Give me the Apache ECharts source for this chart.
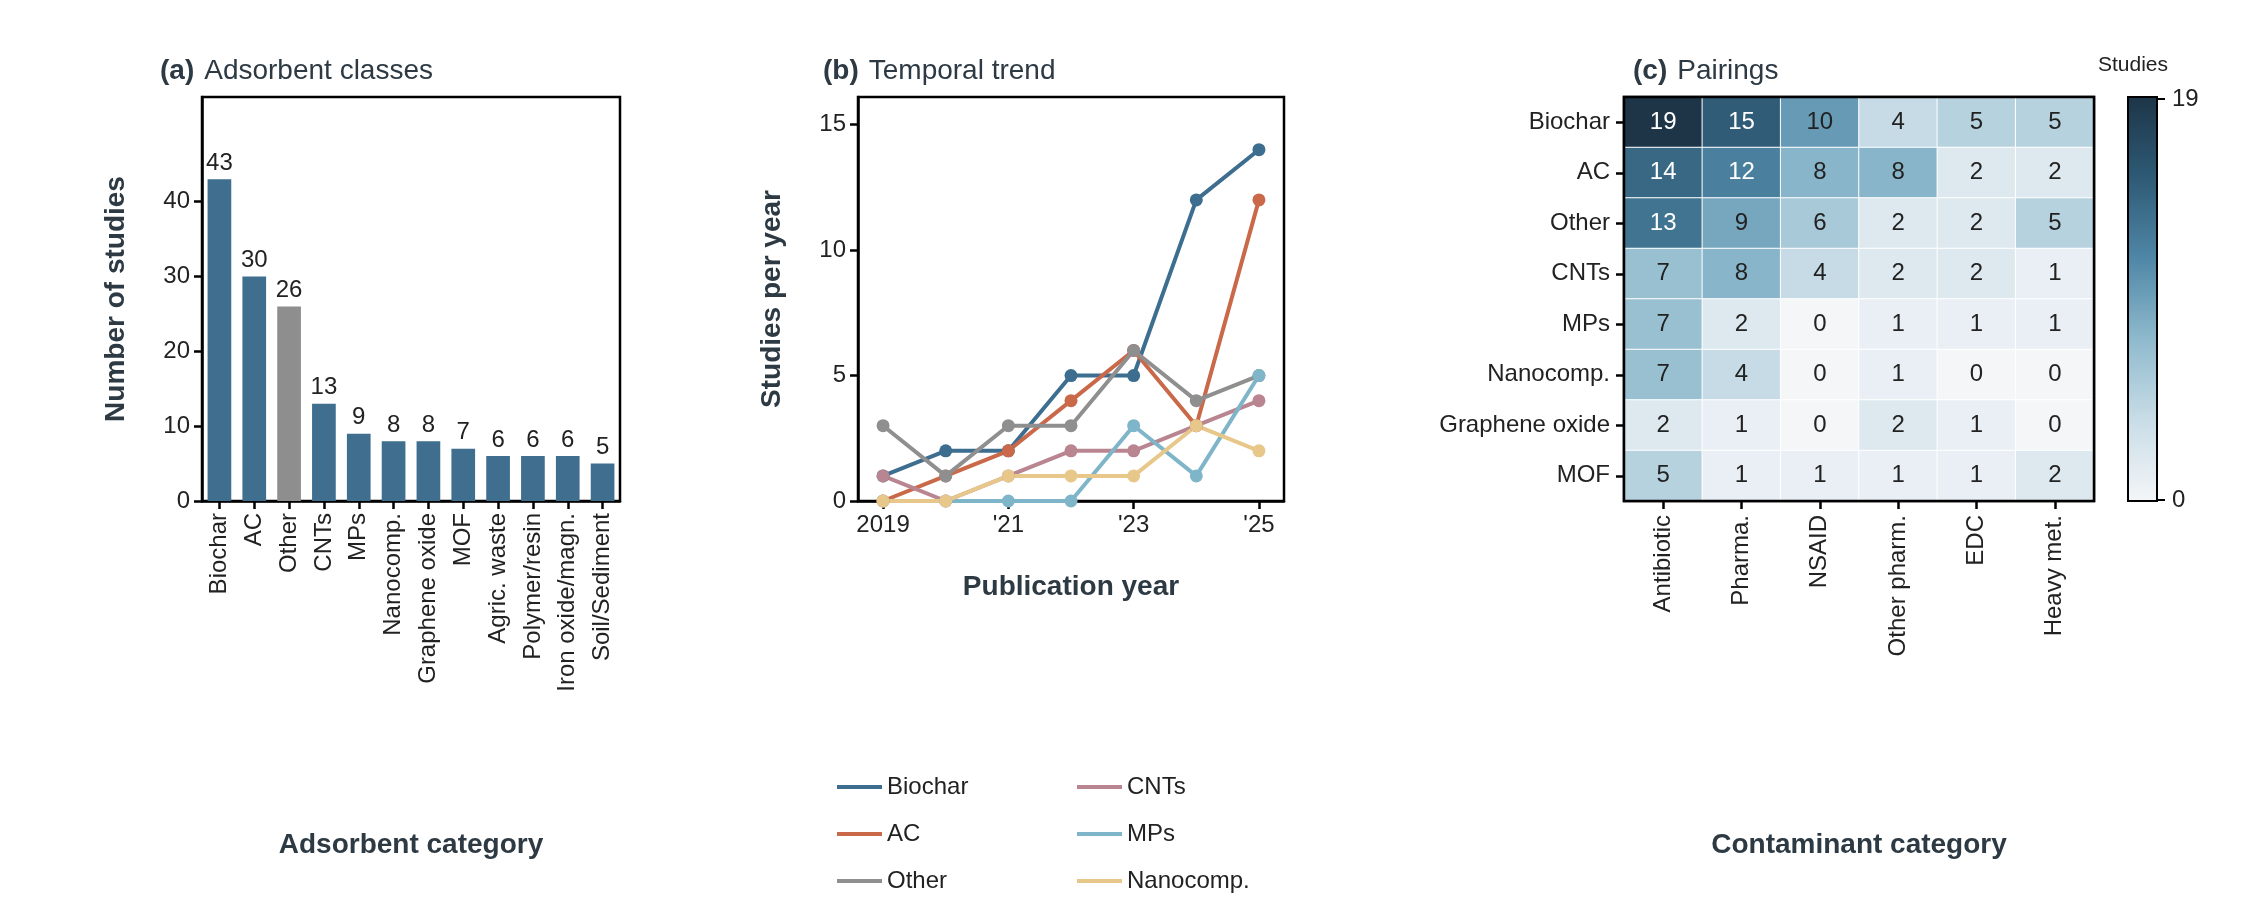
<!DOCTYPE html>
<html><head><meta charset="utf-8">
<script src="https://cdn.jsdelivr.net/npm/echarts@6/dist/echarts.min.js"></script>
<style>html,body{margin:0;background:#fff}#c{width:2244px;height:898px}</style>
</head><body><div id="c"></div>
<script>
const barCats = ['Biochar','AC','Other','CNTs','MPs','Nanocomp.','Graphene oxide','MOF','Agric. waste','Polymer/resin','Iron oxide/magn.','Soil/Sediment'];
const barVals = [43,30,26,13,9,8,8,7,6,6,6,5];
const barTicks = [0,10,20,30,40];
const years = [2019,2020,2021,2022,2023,2024,2025];
const yearTicks = [2019,2021,2023,2025];
const yearTickLabels = ['2019',"'21","'23","'25"];
const trendBiochar = [1,2,2,5,5,12,14];
const trendAC = [0,1,2,4,6,3,12];
const trendOther = [3,1,3,3,6,4,5];
const trendCNTs = [1,0,1,2,2,3,4];
const trendMPs = [0,0,0,0,3,1,5];
const trendNano = [0,0,1,1,1,3,2];
const hmRows = ['Biochar','AC','Other','CNTs','MPs','Nanocomp.','Graphene oxide','MOF'];
const hmCols = ['Antibiotic','Pharma.','NSAID','Other pharm.','EDC','Heavy met.'];
const hmVals = [
 [19,15,10,4,5,5],
 [14,12,8,8,2,2],
 [13,9,6,2,2,5],
 [7,8,4,2,2,1],
 [7,2,0,1,1,1],
 [7,4,0,1,0,0],
 [2,1,0,2,1,0],
 [5,1,1,1,1,2]
];

const F = 'Liberation Sans, Arial, sans-serif';
const TXT = '#222';
const DARK = '#2d3a44';
const axisLine = {show:true, lineStyle:{color:'#000', width:2.5}};
const tick = {show:true, length:8, lineStyle:{color:'#000', width:2.5}};
const lab = {color:TXT, fontSize:24, fontFamily:F};

const hmData = [];
hmVals.forEach((r,i)=>r.forEach((v,j)=>hmData.push({value:[j,i,v], label:{color: v>=11 ? '#fff' : '#222'}})));

function mkLine(name, data, color){
  return {type:'line', name, xAxisIndex:1, yAxisIndex:1, data: years.map((y,i)=>[y,data[i]]),
    symbol:'circle', symbolSize:13, lineStyle:{width:4, color}, itemStyle:{color}, z:3};
}
const trendColors = ['#3d6e8f','#c9694a','#8f8f8f','#b98591','#7fb5c8','#e8c88a'];
const legendPos = [['Biochar',832,782],['AC',832,829],['Other',832,876],['CNTs',1072,782],['MPs',1072,829],['Nanocomp.',1072,876]];
const rich = {b:{fontWeight:'bold',fontSize:28,color:DARK,fontFamily:F},n:{fontWeight:'normal',fontSize:28,color:DARK,fontFamily:F}};

const chart = echarts.init(document.getElementById('c'));
chart.setOption({
  animation:false,
  textStyle:{fontFamily:F},
  title:[
    {left:155, top:52, text:'{b|(a)}  {n|Adsorbent classes}', textStyle:{fontWeight:'normal', rich}},
    {left:818, top:52, text:'{b|(b)}  {n|Temporal trend}', textStyle:{fontWeight:'normal', rich}},
    {left:1628, top:52, text:'{b|(c)}  {n|Pairings}', textStyle:{fontWeight:'normal', rich}}
  ],
  grid:[
    {left:202, top:97, width:418, height:404, show:true, borderColor:'#000', borderWidth:2.5},
    {left:858, top:97, width:426, height:404, show:true, borderColor:'#000', borderWidth:2.5},
    {left:1624, top:97, width:470, height:404, show:true, borderColor:'#000', borderWidth:2.5}
  ],
  xAxis:[
    {gridIndex:0, type:'category', data:barCats, axisLine, axisTick:{...tick, alignWithLabel:true},
     axisLabel:{...lab, rotate:90, interval:0, margin:12},
     name:'Adsorbent category', nameLocation:'middle', nameGap:330, nameTextStyle:{fontSize:28,fontWeight:'bold',color:DARK}},
    {gridIndex:1, type:'value', min:2018.6, max:2025.4, splitLine:{show:false}, axisLine,
     axisTick:{...tick, customValues:yearTicks},
     axisLabel:{...lab, margin:12, customValues:yearTicks, formatter:v=>yearTickLabels[yearTicks.indexOf(Math.round(v))]},
     name:'Publication year', nameLocation:'middle', nameGap:72, nameTextStyle:{fontSize:28,fontWeight:'bold',color:DARK}},
    {gridIndex:2, type:'category', data:hmCols, axisLine:{show:false}, axisTick:{...tick, alignWithLabel:true},
     axisLabel:{...lab, rotate:90, interval:0, margin:14}, splitArea:{show:false},
     name:'Contaminant category', nameLocation:'middle', nameGap:330, nameTextStyle:{fontSize:28,fontWeight:'bold',color:DARK}}
  ],
  yAxis:[
    {gridIndex:0, type:'value', min:0, max:54, splitLine:{show:false}, axisLine,
     axisTick:{...tick, customValues:barTicks},
     axisLabel:{...lab, margin:12, customValues:barTicks},
     name:'Number of studies', nameLocation:'middle', nameGap:72, nameTextStyle:{fontSize:28,fontWeight:'bold',color:DARK}},
    {gridIndex:1, type:'value', min:0, max:16.1, interval:5, splitLine:{show:false}, axisLine, axisTick:tick,
     axisLabel:{...lab, margin:12, showMaxLabel:false},
     name:'Studies per year', nameLocation:'middle', nameGap:72, nameTextStyle:{fontSize:28,fontWeight:'bold',color:DARK}},
    {gridIndex:2, type:'category', data:hmRows, inverse:true, axisLine:{show:false}, axisTick:{...tick, alignWithLabel:true},
     axisLabel:{...lab, margin:14}, splitArea:{show:false}}
  ],
  visualMap:{show:false, min:0, max:19, seriesIndex:7, inRange:{color:['#f4f6f8','#c9dde7','#8fbacd','#4f87a6','#2e5a75','#1d3547']}},
  legend: legendPos.map(([n,x,y])=>({left:x, top:y-12, itemWidth:45, itemHeight:4, icon:'rect', data:[n],
     textStyle:{fontSize:24,color:TXT,fontFamily:F}})),
  series:[
    {type:'bar', xAxisIndex:0, yAxisIndex:0, barWidth:'68%',
     data: barVals.map((v,i)=>({value:v, itemStyle:{color: barCats[i]==='Other' ? '#8e8e8e' : '#3f6e8e'}})),
     label:{show:true, position:'top', fontSize:24, color:TXT, distance:4}},
    mkLine('Biochar', trendBiochar, trendColors[0]),
    mkLine('AC', trendAC, trendColors[1]),
    mkLine('Other', trendOther, trendColors[2]),
    mkLine('CNTs', trendCNTs, trendColors[3]),
    mkLine('MPs', trendMPs, trendColors[4]),
    mkLine('Nanocomp.', trendNano, trendColors[5]),
    {type:'heatmap', xAxisIndex:2, yAxisIndex:2, data:hmData, z:1,
     itemStyle:{borderColor:'#fff', borderWidth:1},
     label:{show:true, fontSize:24, fontFamily:F, formatter:p=>p.value[2]}}
  ],
  graphic:[
    {type:'rect', shape:{x:2128,y:97,width:29,height:404}, style:{fill:new echarts.graphic.LinearGradient(0,0,0,1,[
      {offset:0,color:'#1d3547'},{offset:0.2,color:'#2e5a75'},{offset:0.4,color:'#4f87a6'},{offset:0.6,color:'#8fbacd'},{offset:0.8,color:'#c9dde7'},{offset:1,color:'#f4f6f8'}]), stroke:'#000', lineWidth:2}},
    {type:'rect', shape:{x:1624,y:97,width:470,height:404}, style:{fill:'none', stroke:'#000', lineWidth:2.5}, z:100},
    {type:'line', shape:{x1:2157,y1:99,x2:2165,y2:99}, style:{stroke:'#000',lineWidth:2}},
    {type:'line', shape:{x1:2157,y1:500,x2:2165,y2:500}, style:{stroke:'#000',lineWidth:2}},
    {type:'text', x:2172, y:87, style:{text:'19', fontSize:24, fill:TXT, fontFamily:F}},
    {type:'text', x:2172, y:488, style:{text:'0', fontSize:24, fill:TXT, fontFamily:F}},
    {type:'text', x:2098, y:55, style:{text:'Studies', fontSize:21, fill:TXT, fontFamily:F}}
  ]
});
</script></body></html>
